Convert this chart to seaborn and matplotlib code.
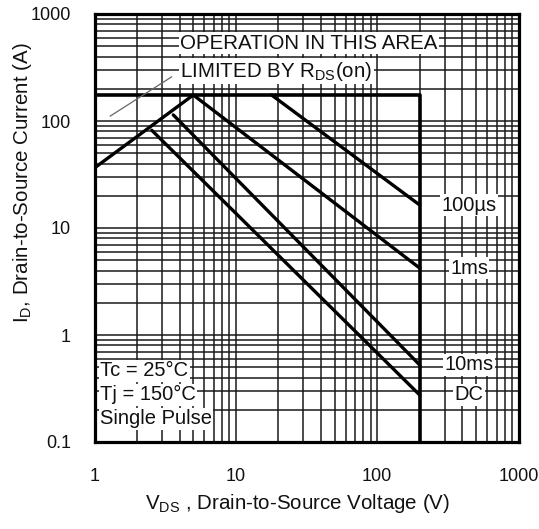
import matplotlib
matplotlib.use("Agg")
import matplotlib.pyplot as plt
import seaborn as sns
from matplotlib.ticker import LogLocator, NullFormatter, FixedLocator, FixedFormatter

# Safe operating area boundaries (V_DS in volts, I_D in amps)
limit_v = [1, 200, 200]
limit_i = [175, 175, 0.1]

rds_v = [1, 5]
rds_i = [36.4, 175]

us100_v = [17.9, 200]
us100_i = [175, 16.4]

ms1_v = [5, 200]
ms1_i = [175, 4.22]

ms10_v = [3.61, 200]
ms10_i = [114, 0.525]

dc_v = [2.54, 200]
dc_i = [82, 0.275]

pointer_v = [1.29, 3.52]
pointer_i = [111, 259]

curve_labels = ["100\u00b5s", "1ms", "10ms", "DC"]
label_v = 447

x_ticks = [1, 10, 100, 1000]
x_ticklabels = ["1", "10", "100", "1000"]
y_ticks = [0.1, 1, 10, 100, 1000]
y_ticklabels = ["0.1", "1", "10", "100", "1000"]

sns.set_style("white")
plt.rcParams["font.family"] = ["Liberation Sans", "DejaVu Sans"]
plt.rcParams["mathtext.fontset"] = "custom"
plt.rcParams["mathtext.rm"] = "Liberation Sans"
plt.rcParams["mathtext.it"] = "Liberation Sans"
plt.rcParams["mathtext.bf"] = "Liberation Sans"

fig = plt.figure(figsize=(5.39, 5.29), dpi=100)
ax = fig.add_axes([94.5 / 539, 1 - 442 / 529, 424 / 539, 428 / 529])
ax.set_xscale("log")
ax.set_yscale("log")
ax.set_xlim(1, 1000)
ax.set_ylim(0.1, 1000)

# dense log grid
ax.xaxis.set_minor_locator(LogLocator(base=10, subs=range(2, 10), numticks=20))
ax.yaxis.set_minor_locator(LogLocator(base=10, subs=range(2, 10), numticks=20))
ax.xaxis.set_minor_formatter(NullFormatter())
ax.yaxis.set_minor_formatter(NullFormatter())
ax.grid(which="both", color="#1a1a1a", linewidth=1.1)
ax.set_axisbelow(True)

ax.xaxis.set_major_locator(FixedLocator(x_ticks))
ax.xaxis.set_major_formatter(FixedFormatter(x_ticklabels))
ax.yaxis.set_major_locator(FixedLocator(y_ticks))
ax.yaxis.set_major_formatter(FixedFormatter(y_ticklabels))
ax.tick_params(axis="both", which="major", direction="in", length=13.5, width=1.6,
               color="black", labelsize=13, labelcolor="#111111")
ax.tick_params(axis="y", which="major", pad=17)
ax.tick_params(axis="x", which="major", pad=18.5)
ax.tick_params(which="minor", length=0)

for s in ax.spines.values():
    s.set_linewidth(2.3)
    s.set_color("black")

kw = dict(ax=ax, color="black", sort=False, estimator=None, legend=False)
sns.lineplot(x=limit_v, y=limit_i, linewidth=2.6, **kw)
for v, i in [(rds_v, rds_i), (us100_v, us100_i), (ms1_v, ms1_i),
             (ms10_v, ms10_i), (dc_v, dc_i)]:
    sns.lineplot(x=v, y=i, linewidth=2.4, **kw)
sns.lineplot(x=pointer_v, y=pointer_i, ax=ax, color="#666666", linewidth=0.9,
             sort=False, estimator=None, legend=False)

box = dict(facecolor="white", edgecolor="none", pad=1.0)

# pulse-duration labels, level with each curve's end current
for lab, i_end in zip(curve_labels, [us100_i[-1], ms1_i[-1], ms10_i[-1], dc_i[-1]]):
    ax.text(label_v, i_end, lab, ha="center", va="center", fontsize=14.5,
            color="#111111", bbox=box)

ax.text(0.2017, 0.932, "OPERATION IN THIS AREA", transform=ax.transAxes,
        ha="left", va="center", fontsize=14.8, color="#111111", bbox=box)
ax.text(0.2017, 0.866, r"LIMITED BY R$_{\mathrm{DS}}$(on)", transform=ax.transAxes,
        ha="left", va="center", fontsize=14.8, color="#111111", bbox=box)

for txt, yf in [("Tc = 25\u00b0C", 0.166), ("Tj = 150\u00b0C", 0.110),
                ("Single Pulse", 0.054)]:
    ax.text(0.013, yf, txt, transform=ax.transAxes, ha="left", va="center",
            fontsize=14.5, color="#111111", bbox=box)

ax.set_xlabel(r"V$_{\mathrm{DS}}$ , Drain-to-Source Voltage (V)", fontsize=14.8,
              color="#111111")
ax.set_ylabel(r"I$_{\mathrm{D}}$, Drain-to-Source Current (A)", fontsize=14.8,
              color="#111111")
ax.xaxis.set_label_coords(0.48, -0.117)
ax.yaxis.set_label_coords(-0.143, 0.607)

fig.savefig("out.png", dpi=100)
